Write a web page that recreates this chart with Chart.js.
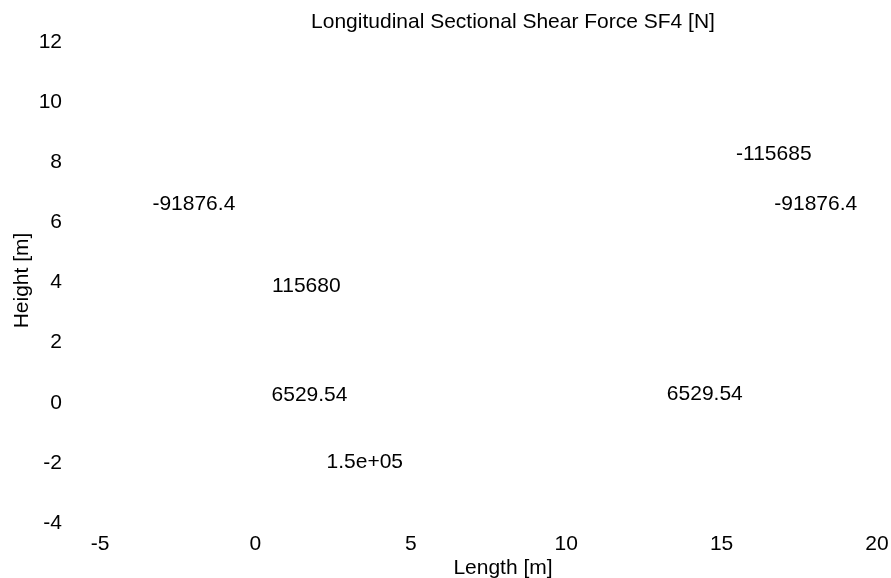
<!DOCTYPE html>
<html lang="en">
<head>
    <meta charset="UTF-8">
    <title>Longitudinal Sectional Shear Force SF4</title>
    <script src="https://cdn.jsdelivr.net/npm/chart.js"></script>
    <style>
        html, body { margin: 0; padding: 0; background: #fff; }
        #wrap { width: 891px; height: 578px; }
    </style>
</head>
<body>
    <div id="wrap"><canvas id="sfChart"></canvas></div>
    <script>
        // value labels and where they sit (Length, Height)
        const valueLabels = ['-91876.4', '115680', '6529.54', '1.5e+05', '-115685', '-91876.4', '6529.54'];
        const lengthPos = [-1.98, 1.64, 1.74, 3.52, 16.68, 18.03, 14.46];
        const heightPos = [6.6, 3.89, 0.26, -1.99, 8.28, 6.61, 0.29];

        const xTicks = [-5, 0, 5, 10, 15, 20];
        const yTicks = [-4, -2, 0, 2, 4, 6, 8, 10, 12];

        const chartTitle = 'Longitudinal Sectional Shear Force SF4 [N]';
        const xTitle = 'Length [m]';
        const yTitle = 'Height [m]';

        const FONT = '"Liberation Sans", Arial, sans-serif';

        const points = lengthPos.map((x, i) => ({ x: x, y: heightPos[i] }));

        // draws the value text at each point, plus the titles
        const textPlugin = {
            id: 'textPlugin',
            afterDatasetsDraw(chart) {
                const ctx = chart.ctx;
                const meta = chart.getDatasetMeta(0);
                ctx.save();
                ctx.fillStyle = '#000';
                ctx.font = '21px ' + FONT;
                ctx.textAlign = 'center';
                ctx.textBaseline = 'middle';
                meta.data.forEach((pt, i) => {
                    ctx.fillText(valueLabels[i], pt.x, pt.y);
                });

                const area = chart.chartArea;
                ctx.fillText(chartTitle, 513, 22);
                ctx.fillText(xTitle, 503, 568);
                ctx.translate(22.5, (area.top + area.bottom) / 2 - 2);
                ctx.rotate(-Math.PI / 2);
                ctx.fillText(yTitle, 0, 0);
                ctx.restore();
            }
        };

        const ctx = document.getElementById('sfChart').getContext('2d');
        new Chart(ctx, {
            type: 'scatter',
            data: {
                datasets: [{
                    label: 'SF4',
                    data: points,
                    pointRadius: 0,
                    pointHoverRadius: 0
                }]
            },
            options: {
                responsive: true,
                maintainAspectRatio: false,
                animation: false,
                layout: { padding: { top: 42, right: 14, left: 0, bottom: 0 } },
                plugins: {
                    legend: { display: false },
                    tooltip: { enabled: false },
                    title: { display: false }
                },
                scales: {
                    x: {
                        type: 'linear',
                        min: xTicks[0],
                        max: xTicks[xTicks.length - 1],
                        afterBuildTicks: s => { s.ticks = xTicks.map(v => ({ value: v })); },
                        afterFit: s => {
                            s.height = 55;
                            s.paddingLeft = 0;
                            s.paddingRight = 0;
                        },
                        grid: { display: false, drawTicks: false },
                        border: { display: false },
                        ticks: { padding: 9, color: '#000', font: { size: 21, family: FONT }, maxRotation: 0 }
                    },
                    y: {
                        type: 'linear',
                        min: yTicks[0],
                        max: yTicks[yTicks.length - 1],
                        afterBuildTicks: s => { s.ticks = yTicks.map(v => ({ value: v })); },
                        afterFit: s => {
                            s.width = 100;
                            s.paddingTop = 0;
                            s.paddingBottom = 0;
                        },
                        grid: { display: false, drawTicks: false },
                        border: { display: false },
                        ticks: { padding: 38, color: '#000', font: { size: 21, family: FONT } }
                    }
                }
            },
            plugins: [textPlugin]
        });
    </script>
</body>
</html>
